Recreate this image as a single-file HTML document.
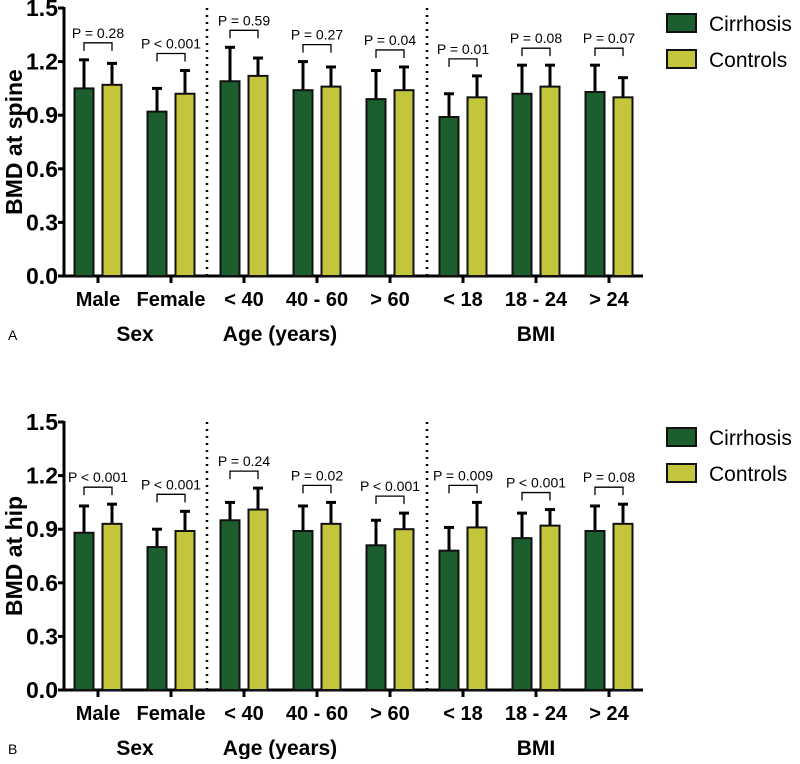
<!DOCTYPE html>
<html><head><meta charset="utf-8"><style>
body{margin:0;background:#fff;width:800px;height:759px;overflow:hidden}
svg text{font-family:"Liberation Sans",Arial,sans-serif}
</style></head><body>
<svg id="chart" width="800" height="759" xmlns="http://www.w3.org/2000/svg"></svg>
<script>
const categories=["Male","Female","< 40","40 - 60","> 60","< 18","18 - 24","> 24"];
const groups=["Sex","Age (years)","BMI"];
const yTicks=[0,0.3,0.6,0.9,1.2,1.5];
const spineCirr=[1.05,0.92,1.09,1.04,0.99,0.89,1.02,1.03];
const spineCirrErr=[0.16,0.13,0.19,0.16,0.16,0.13,0.16,0.15];
const spineCtrl=[1.07,1.02,1.12,1.06,1.04,1.00,1.06,1.00];
const spineCtrlErr=[0.12,0.13,0.10,0.11,0.13,0.12,0.12,0.11];
const spineP=["P = 0.28","P < 0.001","P = 0.59","P = 0.27","P = 0.04","P = 0.01","P = 0.08","P = 0.07"];
const hipCirr=[0.88,0.80,0.95,0.89,0.81,0.78,0.85,0.89];
const hipCirrErr=[0.15,0.10,0.10,0.14,0.14,0.13,0.14,0.14];
const hipCtrl=[0.93,0.89,1.01,0.93,0.90,0.91,0.92,0.93];
const hipCtrlErr=[0.11,0.11,0.12,0.12,0.09,0.14,0.09,0.11];
const hipP=["P < 0.001","P < 0.001","P = 0.24","P = 0.02","P < 0.001","P = 0.009","P < 0.001","P = 0.08"];

const svg=document.getElementById('chart');
const NS="http://www.w3.org/2000/svg";
function el(tag,attrs,text){const e=document.createElementNS(NS,tag);for(const k in attrs)e.setAttribute(k,attrs[k]);if(text!==undefined)e.textContent=text;svg.appendChild(e);return e;}
const C1="#1d5e2f",C2="#c3c53a";
const xAxis=i=>98+i*73;

function panel(y0,cirr,cirrE,ctrl,ctrlE,pv,ytitle,letter,prefix){
  const yScale=v=>y0-v/1.5*268;
  const ax=64;
  let a=el('line',{x1:ax,y1:yScale(1.5)-1,x2:ax,y2:y0,stroke:'#000','stroke-width':3});
  
  
  yTicks.forEach(t=>{
    let l=el('line',{x1:ax-6,y1:yScale(t),x2:ax,y2:yScale(t),stroke:'#000','stroke-width':3});
    
    
    let tx=el('text',{x:ax-6,y:yScale(t)+8,'text-anchor':'end','font-size':23,'font-weight':'bold'},t.toFixed(1));
    
    
  });
  let yt=el('text',{x:0,y:0,transform:`translate(22,${(y0+yScale(1.5))/2}) rotate(-90)`,'text-anchor':'middle','font-size':23,'font-weight':'bold'},ytitle);
  
  
  let xa=el('line',{x1:ax,y1:y0,x2:643,y2:y0,stroke:'#000','stroke-width':3});
  
  
  [207,427].forEach(x=>{
    let d=el('line',{x1:x,y1:yScale(1.5),x2:x,y2:y0,stroke:'#000','stroke-width':2.5,'stroke-dasharray':'2,5'});
    
    
  });
  categories.forEach((c,i)=>{
    const cx=xAxis(i);
    let tk=el('line',{x1:cx,y1:y0,x2:cx,y2:y0+7,stroke:'#000','stroke-width':3});
    
    
    let lb=el('text',{x:cx,y:y0+30,'text-anchor':'middle','font-size':20,'font-weight':'bold'},c);
    
    
    [[cirr[i],cirrE[i],cx-14,C1,'cirrhosis'],[ctrl[i],ctrlE[i],cx+14,C2,'controls']].forEach(([v,e,bx,col,nm])=>{
      const top=yScale(v),et=yScale(v+e);
      let ln=el('line',{x1:bx,y1:top,x2:bx,y2:et,stroke:'#000','stroke-width':3});
      
      
      let cap=el('line',{x1:bx-5,y1:et,x2:bx+5,y2:et,stroke:'#000','stroke-width':3});
      
      
      let r=el('rect',{x:bx-9.5,y:top,width:19,height:y0-top,fill:col,stroke:'#111','stroke-width':2});
      
      
    });
    const by=Math.min(yScale(cirr[i]+cirrE[i]),yScale(ctrl[i]+ctrlE[i]))-17;
    let br=el('path',{d:`M${cx-14},${by+8}V${by}H${cx+14}V${by+8}`,fill:'none',stroke:'#000','stroke-width':1.3});
    
    
    let pt=el('text',{x:cx,y:by-5,'text-anchor':'middle','font-size':14},pv[i]);
    
    
  });
  const gx=[135,280,536];
  groups.forEach((g,i)=>{
    let t=el('text',{x:gx[i],y:y0+65,'text-anchor':'middle','font-size':21,'font-weight':'bold'},g);
    
    
  });
  let lt=el('text',{x:8,y:y0+64,'font-size':14},letter);
  
  
  const ly=yScale(1.5)+6;
  [['Cirrhosis',C1],['Controls',C2]].forEach(([n,c],k)=>{
    let r=el('rect',{x:667,y:ly+k*36,width:29,height:18,fill:c,stroke:'#111','stroke-width':2});
    
    
    let t=el('text',{x:709,y:ly+k*36+17,'font-size':21},n);
    
    
  });
}
panel(276,spineCirr,spineCirrErr,spineCtrl,spineCtrlErr,spineP,'BMD at spine','A','spine');
panel(690,hipCirr,hipCirrErr,hipCtrl,hipCtrlErr,hipP,'BMD at hip','B','hip');
</script>
</body></html>
